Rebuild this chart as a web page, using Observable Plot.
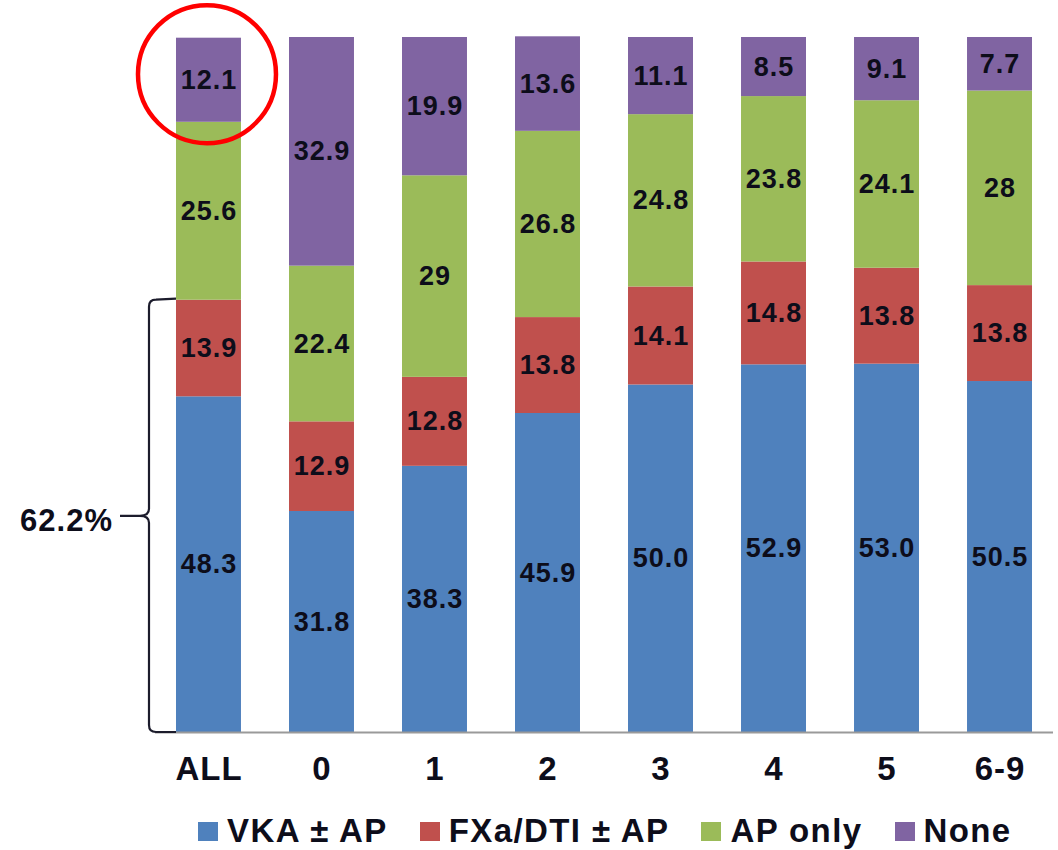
<!DOCTYPE html>
<html>
<head>
<meta charset="utf-8">
<script src="https://cdn.jsdelivr.net/npm/d3@7"></script>
<script src="https://cdn.jsdelivr.net/npm/@observablehq/plot@0.6"></script>
<style>
  html, body { margin: 0; padding: 0; background: #fff; }
  body { width: 1058px; height: 850px; overflow: hidden; font-family: "Liberation Sans", Arial, sans-serif; }
  #legend { box-sizing: border-box; display: flex; align-items: center; height: 50px; padding-top: 12px; padding-left: 198px; font-weight: bold; font-size: 33px; line-height: 36px; letter-spacing: 1.4px; color: #0d0d1a; }
  .item { display: flex; align-items: center; margin-right: 32px; white-space: nowrap; }
  .swatch { width: 20px; height: 19px; margin-right: 9px; }
  .wide text { letter-spacing: 1px; }
</style>
</head>
<body>
<div id="chart"></div>
<div id="legend"></div>
<script>
// Patient groups along the x axis
const categories = ["ALL", "0", "1", "2", "3", "4", "5", "6-9"];

// Treatment shares (%) per group, bottom to top of each bar
const vkaAP = ["48.3", "31.8", "38.3", "45.9", "50.0", "52.9", "53.0", "50.5"];
const fxaDtiAP = ["13.9", "12.9", "12.8", "13.8", "14.1", "14.8", "13.8", "13.8"];
const apOnly = ["25.6", "22.4", "29", "26.8", "24.8", "23.8", "24.1", "28"];
const none = ["12.1", "32.9", "19.9", "13.6", "11.1", "8.5", "9.1", "7.7"];

const seriesNames = ["VKA ± AP", "FXa/DTI ± AP", "AP only", "None"];
const seriesValues = [vkaAP, fxaDtiAP, apOnly, none];
const seriesColors = ["#4f81bd", "#c0504d", "#9bbb59", "#8064a2"];

// Long table: one row per (series, group), in stacking order
const rows = [];
seriesNames.forEach((name, s) => {
  categories.forEach((cat, i) => {
    rows.push({series: name, cat, value: +seriesValues[s][i], label: seriesValues[s][i]});
  });
});

// Anticoagulated share in the ALL group (VKA + FXa/DTI), marked with a brace
const anticoag = +vkaAP[0] + +fxaDtiAP[0];
const braceNote = [{cat: categories[0], y: anticoag / 2, label: anticoag.toFixed(1) + "%"}];

// Ring around the "None" segment of the ALL bar
const ring = [{cat: categories[0], y: +vkaAP[0] + +fxaDtiAP[0] + +apOnly[0] + +none[0] / 2}];

// Curly brace drawn from the y scale between 0 and the anticoagulated share
function brace(index, scales) {
  const x = scales.x, y = scales.y;
  const left = x(categories[0]);
  const x0 = left - 27, tip = left - 56, r = 7;
  const top = y(anticoag), bottom = y(0), mid = (top + bottom) / 2;
  const d = [
    `M${left},${top - 1}`, `L${x0 + r},${top}`, `Q${x0},${top} ${x0},${top + r}`,
    `L${x0},${mid - r}`, `Q${x0},${mid} ${x0 - 9},${mid}`, `L${tip},${mid}`,
    `M${x0 - 9},${mid}`, `Q${x0},${mid} ${x0},${mid + r}`,
    `L${x0},${bottom - r}`, `Q${x0},${bottom} ${x0 + r},${bottom}`, `L${left},${bottom}`
  ].join(" ");
  const g = d3.create("svg:g");
  g.append("path").attr("d", d).attr("fill", "none")
    .attr("stroke", "#1c1c2c").attr("stroke-width", 2.2).attr("stroke-linejoin", "round");
  return g.node();
}

const chart = Plot.plot({
  width: 1058,
  height: 800,
  marginLeft: 155,
  marginRight: 5,
  marginTop: 37,
  marginBottom: 68,
  style: {fontFamily: "'Liberation Sans', Arial, sans-serif", background: "#fff"},
  x: {domain: categories, paddingInner: 0.425, paddingOuter: 0.1858, round: false},
  y: {domain: [0, 100], axis: null},
  color: {domain: seriesNames, range: seriesColors},
  marks: [
    Plot.barY(rows, {x: "cat", y: "value", fill: "series", order: null}),
    Plot.ruleY([0], {stroke: "#9a9a9a", strokeWidth: 2}),
    Plot.text(rows, Plot.stackY({
      x: "cat", y: "value", z: "series", order: null, text: "label",
      fontSize: 27, fontWeight: "bold", fill: "#0d0d1a", className: "wide"
    })),
    Plot.axisX({tickSize: 0, tickPadding: 24, fontSize: 33, fontWeight: "bold", fill: "#0d0d1a", label: null, className: "wide"}),
    brace,
    Plot.text(braceNote, {
      x: "cat", y: "y", text: "label", textAnchor: "end", dx: -96, dy: 5,
      fontSize: 31, fontWeight: "bold", fill: "#0d0d1a", className: "wide"
    }),
    Plot.dot(ring, {x: "cat", y: "y", r: 69, dx: -2, dy: -6, stroke: "#ff0000", strokeWidth: 4.5, fill: "none"})
  ]
});
document.getElementById("chart").append(chart);

// Legend below the chart
const legend = d3.select("#legend");
seriesNames.forEach((name, i) => {
  const item = legend.append("div").attr("class", "item");
  item.append("div").attr("class", "swatch").style("background", seriesColors[i]);
  item.append("span").text(name);
});
</script>
</body>
</html>
